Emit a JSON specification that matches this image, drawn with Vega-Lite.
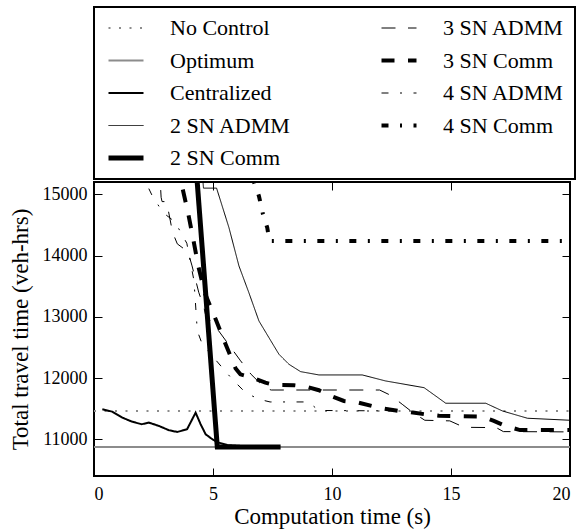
{
  "$schema": "https://vega.github.io/schema/vega-lite/v6.json",
  "width": 476,
  "height": 294,
  "padding": {"left": 8, "top": 6, "right": 10, "bottom": 5},
  "config": {
    "font": "Liberation Serif",
    "view": {"stroke": "black", "strokeWidth": 2},
    "axis": {
      "grid": false, "domain": false, "tickColor": "black", "tickSize": -8, "tickWidth": 1,
      "labelColor": "black", "labelFontSize": 18, "labelFont": "Liberation Serif",
      "titleFontSize": 23, "titleFontWeight": "normal", "titleColor": "black", "titleFont": "Liberation Serif"
    },
    "legend": {"strokeWidth": 2}
  },
  "data": {"values": [
    {"s": "No Control", "t": 0, "v": 11460}, {"s": "No Control", "t": 20, "v": 11460},
    {"s": "Optimum", "t": 0, "v": 10875}, {"s": "Optimum", "t": 20, "v": 10875},
    {"s": "Centralized", "t": 0.35, "v": 11490}, {"s": "Centralized", "t": 0.77, "v": 11450}, {"s": "Centralized", "t": 1.19, "v": 11353},
    {"s": "Centralized", "t": 1.6, "v": 11287}, {"s": "Centralized", "t": 2.0, "v": 11245}, {"s": "Centralized", "t": 2.31, "v": 11271},
    {"s": "Centralized", "t": 2.73, "v": 11217}, {"s": "Centralized", "t": 3.15, "v": 11147}, {"s": "Centralized", "t": 3.5, "v": 11119},
    {"s": "Centralized", "t": 3.91, "v": 11163}, {"s": "Centralized", "t": 4.27, "v": 11434}, {"s": "Centralized", "t": 4.48, "v": 11245},
    {"s": "Centralized", "t": 4.69, "v": 11082}, {"s": "Centralized", "t": 4.97, "v": 11000}, {"s": "Centralized", "t": 5.25, "v": 10944},
    {"s": "Centralized", "t": 5.6, "v": 10905}, {"s": "Centralized", "t": 6.2, "v": 10890},
    {"s": "2 SN ADMM", "t": 4.5, "v": 15600}, {"s": "2 SN ADMM", "t": 4.6, "v": 15100}, {"s": "2 SN ADMM", "t": 5.15, "v": 15100},
    {"s": "2 SN ADMM", "t": 5.67, "v": 14455}, {"s": "2 SN ADMM", "t": 6.09, "v": 13830}, {"s": "2 SN ADMM", "t": 6.51, "v": 13390},
    {"s": "2 SN ADMM", "t": 6.93, "v": 12931}, {"s": "2 SN ADMM", "t": 7.35, "v": 12659}, {"s": "2 SN ADMM", "t": 7.77, "v": 12388},
    {"s": "2 SN ADMM", "t": 8.19, "v": 12224}, {"s": "2 SN ADMM", "t": 8.68, "v": 12104}, {"s": "2 SN ADMM", "t": 9.45, "v": 12050},
    {"s": "2 SN ADMM", "t": 11.27, "v": 12050}, {"s": "2 SN ADMM", "t": 12.25, "v": 11952}, {"s": "2 SN ADMM", "t": 13.87, "v": 11842},
    {"s": "2 SN ADMM", "t": 14.78, "v": 11588}, {"s": "2 SN ADMM", "t": 16.46, "v": 11588}, {"s": "2 SN ADMM", "t": 17.16, "v": 11462},
    {"s": "2 SN ADMM", "t": 18.21, "v": 11343}, {"s": "2 SN ADMM", "t": 20, "v": 11310},
    {"s": "2 SN Comm", "t": 4.2, "v": 15900}, {"s": "2 SN Comm", "t": 5.18, "v": 10875}, {"s": "2 SN Comm", "t": 7.84, "v": 10875},
    {"s": "3 SN ADMM", "t": 2.74, "v": 15500}, {"s": "3 SN ADMM", "t": 2.82, "v": 14950}, {"s": "3 SN ADMM", "t": 2.86, "v": 14880},
    {"s": "3 SN ADMM", "t": 3.05, "v": 14880}, {"s": "3 SN ADMM", "t": 3.3, "v": 14380}, {"s": "3 SN ADMM", "t": 3.5, "v": 14190},
    {"s": "3 SN ADMM", "t": 3.95, "v": 14060}, {"s": "3 SN ADMM", "t": 4.12, "v": 13830}, {"s": "3 SN ADMM", "t": 4.4, "v": 13400},
    {"s": "3 SN ADMM", "t": 4.62, "v": 13150}, {"s": "3 SN ADMM", "t": 4.7, "v": 13013}, {"s": "3 SN ADMM", "t": 5.18, "v": 12800},
    {"s": "3 SN ADMM", "t": 6.16, "v": 12280}, {"s": "3 SN ADMM", "t": 6.6, "v": 12060}, {"s": "3 SN ADMM", "t": 7.2, "v": 11830},
    {"s": "3 SN ADMM", "t": 7.45, "v": 11804}, {"s": "3 SN ADMM", "t": 12.0, "v": 11804}, {"s": "3 SN ADMM", "t": 12.45, "v": 11720},
    {"s": "3 SN ADMM", "t": 12.95, "v": 11571}, {"s": "3 SN ADMM", "t": 13.4, "v": 11435}, {"s": "3 SN ADMM", "t": 13.9, "v": 11310},
    {"s": "3 SN ADMM", "t": 14.95, "v": 11300}, {"s": "3 SN ADMM", "t": 15.55, "v": 11195}, {"s": "3 SN ADMM", "t": 16.9, "v": 11190},
    {"s": "3 SN ADMM", "t": 17.2, "v": 11125}, {"s": "3 SN ADMM", "t": 20, "v": 11120},
    {"s": "3 SN Comm", "t": 3.5, "v": 15500}, {"s": "3 SN Comm", "t": 3.7, "v": 15130}, {"s": "3 SN Comm", "t": 3.95, "v": 14700},
    {"s": "3 SN Comm", "t": 4.17, "v": 14265}, {"s": "3 SN Comm", "t": 4.38, "v": 13830}, {"s": "3 SN Comm", "t": 4.65, "v": 13395},
    {"s": "3 SN Comm", "t": 5.1, "v": 12970}, {"s": "3 SN Comm", "t": 5.53, "v": 12550}, {"s": "3 SN Comm", "t": 5.95, "v": 12156},
    {"s": "3 SN Comm", "t": 6.15, "v": 12060}, {"s": "3 SN Comm", "t": 6.65, "v": 12006}, {"s": "3 SN Comm", "t": 7.2, "v": 11924},
    {"s": "3 SN Comm", "t": 7.6, "v": 11885}, {"s": "3 SN Comm", "t": 8.4, "v": 11882}, {"s": "3 SN Comm", "t": 8.9, "v": 11860},
    {"s": "3 SN Comm", "t": 9.45, "v": 11800}, {"s": "3 SN Comm", "t": 9.95, "v": 11707}, {"s": "3 SN Comm", "t": 10.5, "v": 11625},
    {"s": "3 SN Comm", "t": 11.1, "v": 11600}, {"s": "3 SN Comm", "t": 11.67, "v": 11544}, {"s": "3 SN Comm", "t": 12.2, "v": 11500},
    {"s": "3 SN Comm", "t": 12.8, "v": 11462}, {"s": "3 SN Comm", "t": 13.4, "v": 11435}, {"s": "3 SN Comm", "t": 13.9, "v": 11408},
    {"s": "3 SN Comm", "t": 14.5, "v": 11385}, {"s": "3 SN Comm", "t": 15.0, "v": 11380}, {"s": "3 SN Comm", "t": 16.3, "v": 11370},
    {"s": "3 SN Comm", "t": 16.8, "v": 11300}, {"s": "3 SN Comm", "t": 17.3, "v": 11215}, {"s": "3 SN Comm", "t": 17.9, "v": 11150},
    {"s": "3 SN Comm", "t": 20, "v": 11150},
    {"s": "4 SN ADMM", "t": 2.05, "v": 15600}, {"s": "4 SN ADMM", "t": 2.17, "v": 15200}, {"s": "4 SN ADMM", "t": 2.45, "v": 14973},
    {"s": "4 SN ADMM", "t": 2.9, "v": 14700}, {"s": "4 SN ADMM", "t": 3.4, "v": 14550}, {"s": "4 SN ADMM", "t": 3.9, "v": 14200},
    {"s": "4 SN ADMM", "t": 4.2, "v": 13590}, {"s": "4 SN ADMM", "t": 4.25, "v": 13300}, {"s": "4 SN ADMM", "t": 4.34, "v": 12770},
    {"s": "4 SN ADMM", "t": 4.55, "v": 12550}, {"s": "4 SN ADMM", "t": 5.39, "v": 12169}, {"s": "4 SN ADMM", "t": 5.81, "v": 11980},
    {"s": "4 SN ADMM", "t": 6.37, "v": 11760}, {"s": "4 SN ADMM", "t": 6.93, "v": 11653}, {"s": "4 SN ADMM", "t": 7.4, "v": 11609},
    {"s": "4 SN ADMM", "t": 9.0, "v": 11609}, {"s": "4 SN ADMM", "t": 9.45, "v": 11470}, {"s": "4 SN ADMM", "t": 12.8, "v": 11462},
    {"s": "4 SN Comm", "t": 6.55, "v": 15500}, {"s": "4 SN Comm", "t": 6.72, "v": 15200}, {"s": "4 SN Comm", "t": 6.93, "v": 14972},
    {"s": "4 SN Comm", "t": 7.1, "v": 14673}, {"s": "4 SN Comm", "t": 7.28, "v": 14455}, {"s": "4 SN Comm", "t": 7.37, "v": 14235},
    {"s": "4 SN Comm", "t": 20, "v": 14235}
  ]},
  "layer": [
    {
      "mark": {"type": "line", "clip": true},
      "encoding": {
        "x": {"field": "t", "type": "quantitative", "scale": {"domain": [0, 20], "nice": false},
              "axis": {"title": "Computation time (s)", "values": [0, 5, 10, 15, 20], "labelPadding": 17, "titlePadding": 2}},
        "y": {"field": "v", "type": "quantitative", "scale": {"domain": [10400, 15200], "nice": false, "zero": false},
              "axis": {"title": "Total travel time (veh-hrs)", "values": [11000, 12000, 13000, 14000, 15000], "format": "d", "labelPadding": 15, "titlePadding": 10}},
        "color": {"field": "s", "type": "nominal",
          "scale": {"domain": ["No Control", "Optimum", "Centralized", "2 SN ADMM", "2 SN Comm", "3 SN ADMM", "3 SN Comm", "4 SN ADMM", "4 SN Comm"],
                    "range": ["#8c8c8c", "#8c8c8c", "black", "black", "black", "black", "black", "black", "black"]},
          "legend": {"orient": "none", "legendX": 0, "legendY": -175, "columns": 2, "title": null,
                     "strokeColor": "black", "fillColor": "white", "padding": 10, "columnPadding": 85, "rowPadding": 10.5,
                     "clipHeight": 22, "labelFontSize": 22, "labelFont": "Liberation Serif", "labelColor": "black",
                     "labelOffset": 24, "symbolSize": 1225, "symbolType": "stroke", "symbolOffset": 2, "labelLimit": 300}},
        "strokeDash": {"field": "s", "type": "nominal",
          "scale": {"domain": ["No Control", "Optimum", "Centralized", "2 SN ADMM", "2 SN Comm", "3 SN ADMM", "3 SN Comm", "4 SN ADMM", "4 SN Comm"],
                    "range": [[2, 8.5], [1, 0], [1, 0], [1, 0], [1, 0], [14, 12.5], [13, 13.5], [7, 11.5, 2, 11.5], [7, 11.5, 2, 11.5]]}},
        "strokeWidth": {"field": "s", "type": "nominal",
          "scale": {"type": "ordinal", "domain": ["No Control", "Optimum", "Centralized", "2 SN ADMM", "2 SN Comm", "3 SN ADMM", "3 SN Comm", "4 SN ADMM", "4 SN Comm"],
                    "range": [2, 2, 2, 1, 5, 1, 4, 1, 4]}}
      }
    },
    {
      "mark": {"type": "line", "opacity": 0},
      "encoding": {
        "x": {"field": "t", "type": "quantitative", "axis": {"orient": "top", "labels": false, "title": null, "values": [0, 5, 10, 15, 20]}},
        "y": {"field": "v", "type": "quantitative", "axis": {"orient": "right", "labels": false, "title": null, "values": [11000, 12000, 13000, 14000, 15000]}}
      }
    }
  ],
  "resolve": {"axis": {"x": "independent", "y": "independent"}}
}
